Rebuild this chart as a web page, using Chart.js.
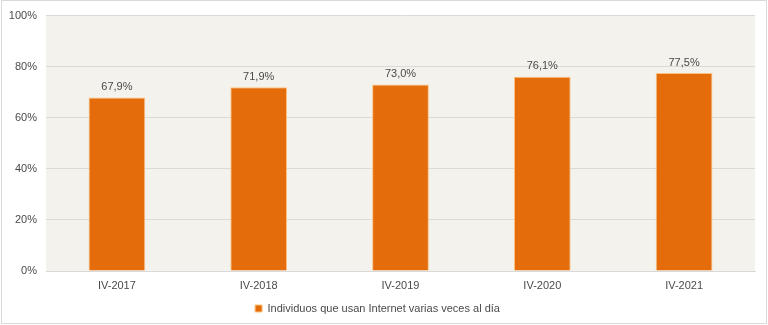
<!DOCTYPE html>
<html>
<head>
<meta charset="utf-8">
<script src="https://cdn.jsdelivr.net/npm/chart.js@4"></script>
<style>
body { margin: 0; background: #fff; }
#wrap { width: 768px; height: 325px; }
</style>
</head>
<body>
<div id="wrap"><canvas id="chart" width="768" height="325"></canvas></div>
<script>
const periods = ['IV-2017', 'IV-2018', 'IV-2019', 'IV-2020', 'IV-2021'];
const usage = [67.9, 71.9, 73.0, 76.1, 77.5];
const yTicks = [0, 20, 40, 60, 80, 100];
const seriesName = 'Individuos que usan Internet varias veces al día';

// background of the plot area and the outer frame
const frame = {
    id: 'frame',
    beforeDraw(chart) {
        const ctx = chart.ctx;
        const a = chart.chartArea;
        ctx.save();
        ctx.fillStyle = '#f4f2ec';
        ctx.fillRect(a.left, a.top, a.right - a.left, a.bottom - a.top);
        ctx.strokeStyle = '#d9d9d9';
        ctx.lineWidth = 1;
        ctx.strokeRect(1.5, 0.5, chart.width - 3, chart.height - 2);
        ctx.restore();
    }
};

// value labels above bars
const valueLabels = {
    id: 'valueLabels',
    afterDatasetsDraw(chart) {
        const ctx = chart.ctx;
        ctx.save();
        ctx.font = '11px "Liberation Sans", Arial, sans-serif';
        ctx.fillStyle = '#4a4a4a';
        ctx.textAlign = 'center';
        ctx.textBaseline = 'bottom';
        chart.getDatasetMeta(0).data.forEach((bar, i) => {
            ctx.fillText(usage[i].toFixed(1).replace('.', ',') + '%', bar.x, bar.y - 5);
        });
        ctx.restore();
    }
};

const ctx = document.getElementById('chart').getContext('2d');
new Chart(ctx, {
    type: 'bar',
    data: {
        labels: periods,
        datasets: [{
            label: seriesName,
            data: usage,
            backgroundColor: '#e46c0a',
            borderColor: '#fbc27f',
            borderWidth: 1,
            categoryPercentage: 0.8,
            barPercentage: 0.5
        }]
    },
    options: {
        responsive: false,
        animation: false,
        layout: { padding: { top: 14, right: 13, left: 0, bottom: 1 } },
        plugins: {
            legend: {
                position: 'bottom',
                labels: {
                    boxWidth: 7,
                    boxHeight: 7,
                    padding: 6,
                    color: '#4a4a4a',
                    font: { size: 11, family: '"Liberation Sans", Arial, sans-serif' }
                }
            },
            tooltip: { enabled: false }
        },
        scales: {
            x: {
                afterFit(scale) { scale.height = 26; },
                grid: { display: false },
                border: { color: '#d9d9d9' },
                ticks: {
                    color: '#4a4a4a',
                    padding: 0,
                    font: { size: 11, family: '"Liberation Sans", Arial, sans-serif' }
                }
            },
            y: {
                min: 0,
                max: 100,
                afterFit(scale) { scale.width = 46; },
                afterBuildTicks(scale) { scale.ticks = yTicks.map(v => ({ value: v })); },
                grid: { color: '#dcdad4', drawTicks: false },
                border: { display: false },
                ticks: {
                    color: '#4a4a4a',
                    padding: 9,
                    font: { size: 11, family: '"Liberation Sans", Arial, sans-serif' },
                    callback: v => v + '%'
                }
            }
        }
    },
    plugins: [frame, valueLabels]
});
</script>
</body>
</html>
